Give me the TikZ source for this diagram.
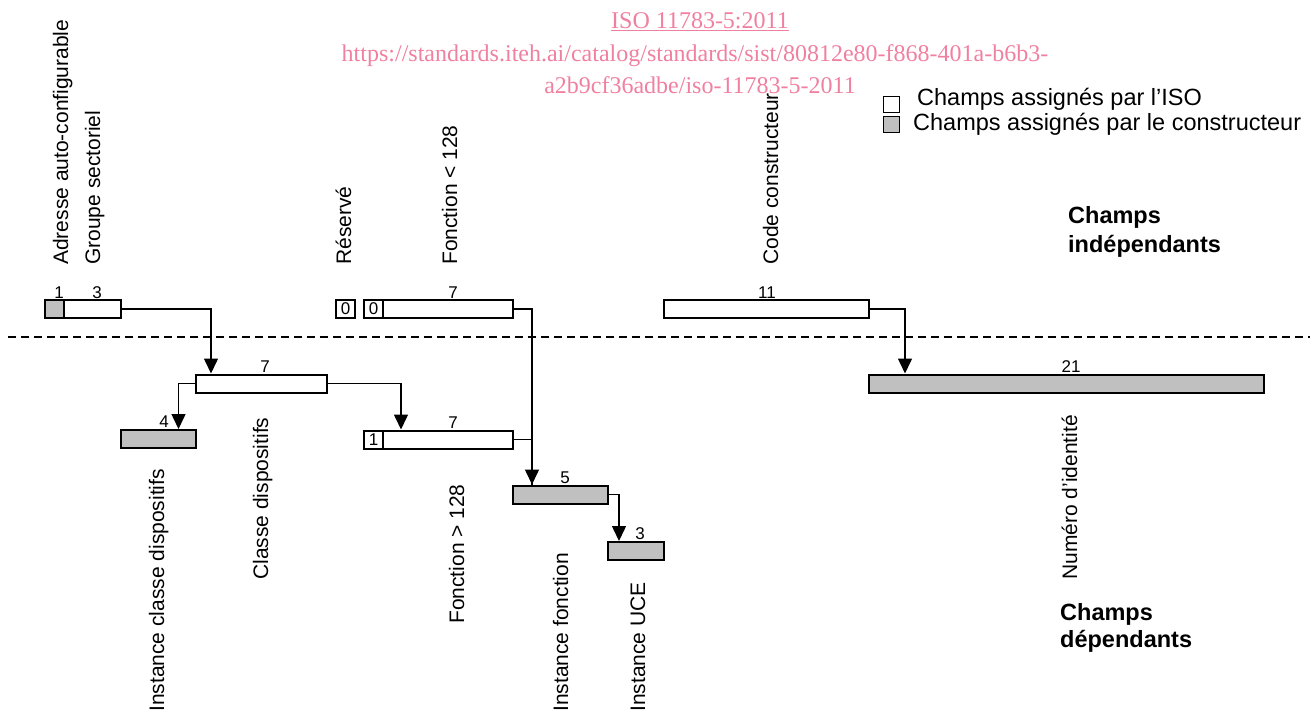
\documentclass[tikz,border=0pt]{standalone}
\usepackage{fontspec}
\setmainfont{Liberation Sans}
\newfontfamily\wmfont{Liberation Serif}
\usetikzlibrary{arrows.meta}
\definecolor{mfrgrey}{RGB}{192,192,192}
\definecolor{wmpink}{RGB}{240,128,160}

\begin{document}
\begin{tikzpicture}[x=1pt, y=-1pt,
	field/.style={shape=rectangle, draw, line width=2pt, inner sep=0pt, minimum height=18pt, font=\fontsize{17}{18}\selectfont},
	isofield/.style={field, fill=white},
	mfrfield/.style={field, fill=mfrgrey},
	bits/.style={anchor=base, inner sep=0pt, font=\fontsize{17}{18}\selectfont},
	fieldname/.style={rotate=90, anchor=base west, inner sep=0pt, font=\fontsize{21}{24}\selectfont},
	wire/.style={line width=1.5pt},
	feed/.style={wire, -{Triangle[length=15pt, width=14pt]}},
	legendtext/.style={anchor=base west, inner sep=0pt, font=\fontsize{23.5}{28}\selectfont},
	grouptext/.style={anchor=base west, inner sep=0pt, font=\fontsize{23.5}{28}\selectfont\bfseries},
	watermark/.style={anchor=base, inner sep=0pt, text=wmpink, font=\wmfont\fontsize{24}{28}\selectfont}]
	\useasboundingbox (0, 0) rectangle (1312, 713);
	% Watermark:
	\node[watermark] (wm1) at (700, 28){\underline{ISO 11783-5:2011}};
	\node[watermark] (wm2) at (695, 61){https://standards.iteh.ai/catalog/standards/sist/80812e80-f868-401a-b6b3-};
	\node[watermark] (wm3) at (700, 93){a2b9cf36adbe/iso-11783-5-2011};
	% Legend:
	\node[field, line width=1.5pt, minimum width=16pt, minimum height=16pt] (legiso) at (891.5, 104.5){};
	\node[field, line width=1.5pt, minimum width=16pt, minimum height=16pt, fill=mfrgrey] (legmfr) at (891.5, 124.5){};
	\node[legendtext] (tlegiso) at (917, 105){Champs assignés par l’ISO};
	\node[legendtext] (tlegmfr) at (913, 130){Champs assignés par le constructeur};
	\node[grouptext] (indep1) at (1068, 223){Champs};
	\node[grouptext] (indep2) at (1068, 252){indépendants};
	\node[grouptext] (dep1) at (1060, 620){Champs};
	\node[grouptext] (dep2) at (1060, 647){dépendants};
	% Fields:
	\node[mfrfield, minimum width=19pt] (adr) at (54.5, 309){};
	\node[isofield, minimum width=57pt] (grp) at (92.5, 309){};
	\node[isofield, minimum width=19pt] (res) at (345.5, 309){0};
	\node[isofield, minimum width=19pt] (fct0) at (373.5, 309){0};
	\node[isofield, minimum width=130pt] (fctlo) at (448, 309){};
	\node[isofield, minimum width=205pt] (code) at (766.5, 309){};
	\node[isofield, minimum width=131pt] (cls) at (261.5, 383.5){};
	\node[mfrfield, minimum width=75pt] (icls) at (158.5, 439){};
	\node[isofield, minimum width=19pt] (fct1) at (373.5, 439.5){1};
	\node[isofield, minimum width=130pt] (fcthi) at (448, 439.5){};
	\node[mfrfield, minimum width=95pt] (ifct) at (560.5, 494.5){};
	\node[mfrfield, minimum width=56pt] (iuce) at (636, 551){};
	\node[mfrfield, minimum width=395pt] (num) at (1066.5, 383.5){};
	% Bit counts:
	\node[bits] (nadr) at (59, 298){1};
	\node[bits] (ngrp) at (97, 298){3};
	\node[bits] (nfctlo) at (453, 298){7};
	\node[bits] (ncode) at (767, 298){11};
	\node[bits] (ncls) at (265, 372){7};
	\node[bits] (nicls) at (164, 427){4};
	\node[bits] (nfcthi) at (453, 428){7};
	\node[bits] (nifct) at (565, 483){5};
	\node[bits] (niuce) at (640, 539){3};
	\node[bits] (nnum) at (1071, 372){21};
	% Field names:
	\node[fieldname] (tadr) at (68, 265){Adresse auto-configurable};
	\node[fieldname] (tgrp) at (100, 265){Groupe sectoriel};
	\node[fieldname] (tres) at (351, 265){Réservé};
	\node[fieldname] (tfctlo) at (457, 265){Fonction < 128};
	\node[fieldname] (tcode) at (778, 265){Code constructeur};
	\node[fieldname] (ticls) at (164, 712){Instance classe dispositifs};
	\node[fieldname] (tcls) at (268, 580){Classe dispositifs};
	\node[fieldname] (tfcthi) at (464, 624){Fonction > 128};
	\node[fieldname] (tifct) at (568, 712){Instance fonction};
	\node[fieldname] (tiuce) at (645, 712){Instance UCE};
	\node[fieldname] (tnum) at (1077, 580){Numéro d'identité};
	% Separator and wires:
	\coordinate (sepl) at (8, 337);
	\coordinate (sepr) at (1310, 337);
	\draw[wire, dash pattern=on 8pt off 5pt] (sepl) -- (sepr);
	\draw[feed] (grp.east) -| ([xshift=16pt]cls.north west);
	\draw[feed] (cls.west) -| ([xshift=20pt]icls.north);
	\draw[feed] (cls.east) -| ([xshift=19pt]fcthi.north west);
	\draw[feed] (fctlo.east) -| ([xshift=20pt]ifct.north west);
	\draw[wire] (fcthi.east) -| ([xshift=20pt]ifct.north west);
	\draw[feed] (ifct.east) -| ([xshift=12pt]iuce.north west);
	\draw[feed] (code.east) -| ([xshift=37pt]num.north west);
\end{tikzpicture}
\end{document}
